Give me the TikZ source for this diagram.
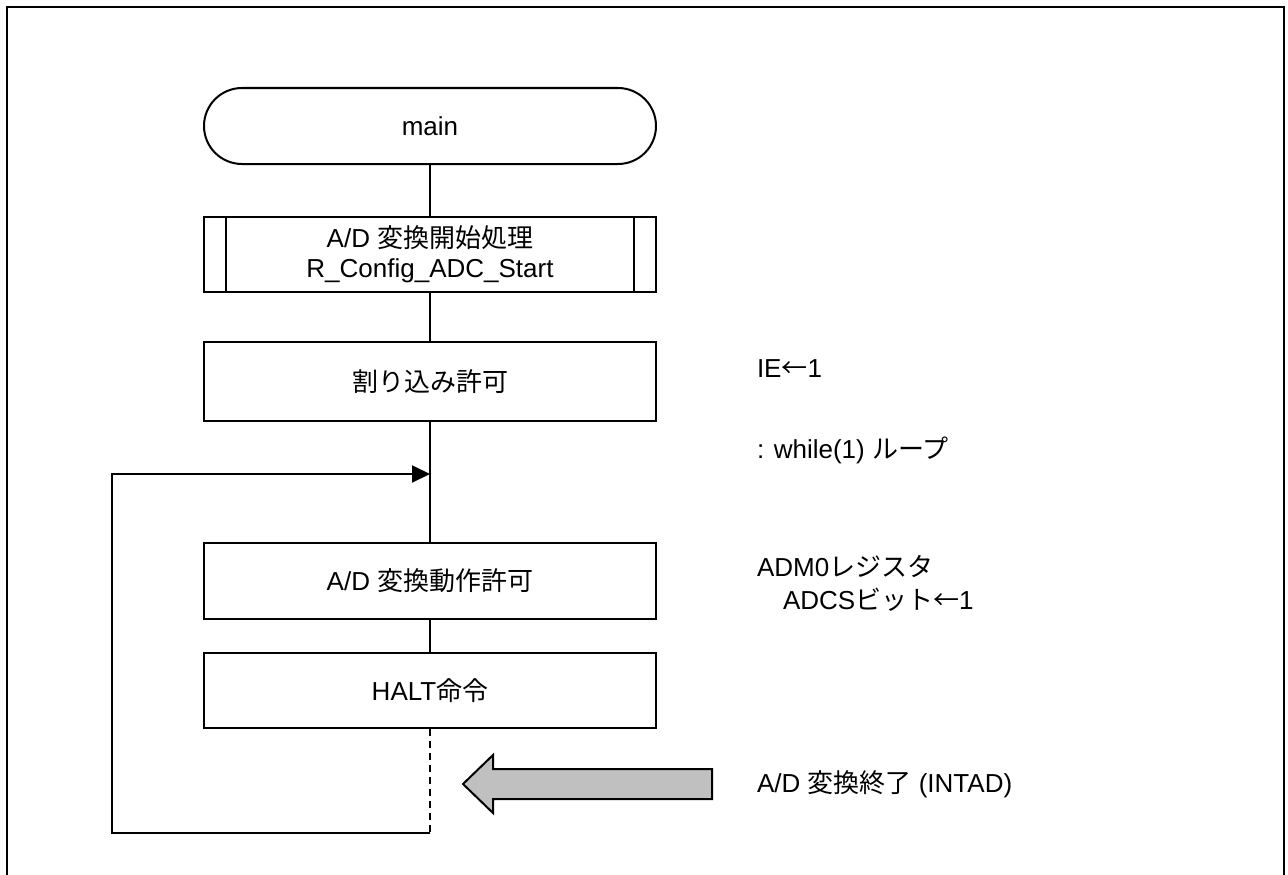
\documentclass[tikz,border=0pt]{standalone}
\usepackage{fontspec}
\setmainfont{Liberation Sans}
\newfontfamily\jp{Noto Sans CJK JP}
\usetikzlibrary{arrows.meta,calc}
\definecolor{blockgray}{HTML}{C0C0C0}
\begin{document}
\begin{tikzpicture}[x=1pt,y=-1pt, line width=2pt, line join=miter,
  box/.style={draw, minimum width=452pt, minimum height=76pt, inner sep=0pt,
              font=\fontsize{26}{30}\selectfont, align=center},
  term/.style={box, rounded corners=38pt},
  note/.style={anchor=base west, inner sep=0pt, font=\fontsize{26}{30}\selectfont},
  flow/.style={line width=2pt},
  dashflow/.style={line width=2pt, dash pattern=on 7pt off 5pt},
]
\useasboundingbox (0,0) rectangle (1288,875);
\draw[line width=2pt] (7,880) -- (7,7) -- (1284,7) -- (1284,880);

\node[term] (main) at (430,126) {main};
\node[box, minimum height=75pt] (sub) at (430,254.5) {A/D {\jp 変換開始処理}\\R\_Config\_ADC\_Start};
\draw[flow] ($(sub.north west)+(23,0)$) -- ($(sub.south west)+(23,0)$);
\draw[flow] ($(sub.north east)+(-23,0)$) -- ($(sub.south east)+(-23,0)$);
\node[box, minimum height=79pt] (ie) at (430,381.5) {{\jp 割り込み許可}};
\node[box] (adcs) at (430,581) {A/D {\jp 変換動作許可}};
\node[box, minimum height=75pt] (halt) at (430,690.5) {HALT{\jp 命令}};

\node[note] (n1) at (756,377) {IE{\jp ←}1};
\node[note] (n2) at (756,458) {: while(1) {\jp ループ}};
\node[note] (n3) at (756,576) {ADM0{\jp レジスタ}};
\node[note] (n4) at (782,609) {ADCS{\jp ビット←}1};
\node[note] (n5) at (756,792) {A/D {\jp 変換終了} (INTAD)};

\coordinate (bot) at (430,833);
\coordinate (bl) at (112,833);
\coordinate (tl) at (112,474);
\coordinate (jn) at (430,474);

\draw[flow] (main.south) -- (sub.north);
\draw[flow] (sub.south) -- (ie.north);
\draw[flow] (ie.south) -- (adcs.north);
\draw[flow] (adcs.south) -- (halt.north);
\draw[dashflow] (halt.south) -- (bot);
\draw[flow, -{Triangle[length=18pt,width=17pt]}] (bot) -- (bl) -- (tl) -- (jn);

\filldraw[fill=blockgray, line width=2pt] (712,769) -- (493,769) -- (493,755) -- (463,784) -- (493,813) -- (493,799) -- (712,799) -- cycle;
\end{tikzpicture}
\end{document}
